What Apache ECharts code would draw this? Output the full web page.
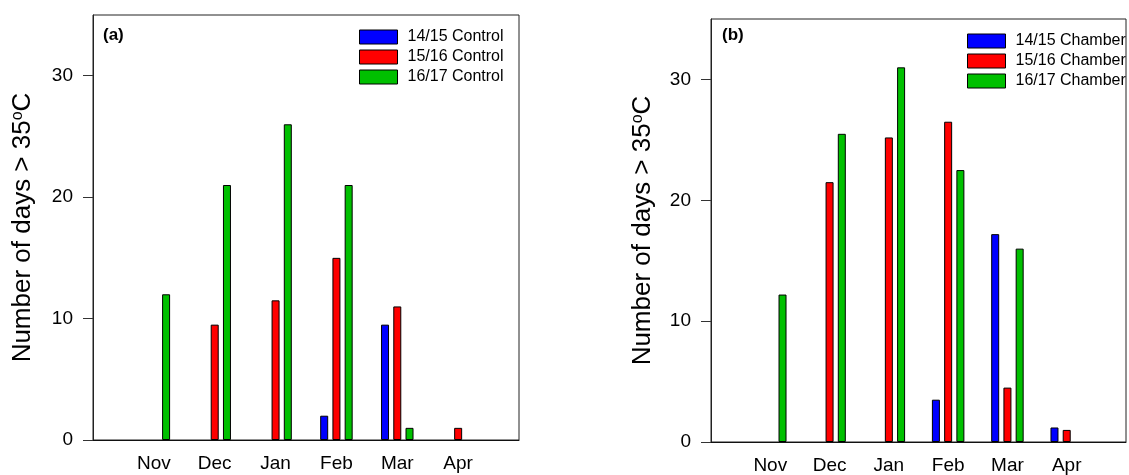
<!DOCTYPE html>
<html>
<head>
<meta charset="utf-8">
<title>Number of days above 35 °C</title>
<script src="https://cdn.jsdelivr.net/npm/echarts@6/dist/echarts.min.js"></script>
<style>
  html, body { margin: 0; padding: 0; background: #fff; }
  #chart { width: 1129px; height: 475px; }
</style>
</head>
<body>
<div id="chart"></div>
<script>
// Months of the warm season (x-axis tick labels)
const months = ['Nov', 'Dec', 'Jan', 'Feb', 'Mar', 'Apr'];
// Y-axis tick values
const yTicks = [0, 10, 20, 30];

// Panel (a): open-field control plots
const controlNames = ['14/15 Control', '15/16 Control', '16/17 Control'];
const control1415 = [0, 0, 0, 2, 9.5, 0];
const control1516 = [0, 9.5, 11.5, 15, 11, 1];
const control1617 = [12, 21, 26, 21, 1, 0];

// Panel (b): heated chambers
const chamberNames = ['14/15 Chamber', '15/16 Chamber', '16/17 Chamber'];
const chamber1415 = [0, 0, 0, 3.5, 17.2, 1.2];
const chamber1516 = [0, 21.5, 25.2, 26.5, 4.5, 1];
const chamber1617 = [12.2, 25.5, 31, 22.5, 16, 0];

const seasonColors = ['#0000ff', '#ff0000', '#00c000'];
const FONT = 'Arial, "Liberation Sans", Helvetica, sans-serif';

// an empty slot on each side so the months sit one step in from the frame
const cats = [''].concat(months, ['']);
// zero-day months get no outline so nothing shows on the baseline
const pad = arr => ['-'].concat(
  arr.map(v => (v === 0 ? { value: 0, itemStyle: { borderWidth: 0, opacity: 0 } } : v)),
  ['-']
);

function xAxisFor(gridIndex) {
  return {
    type: 'category', gridIndex, data: cats, boundaryGap: false,
    axisLine: { show: true, lineStyle: { color: '#111', width: 1 } },
    axisTick: { show: false },
    axisLabel: { interval: 0, fontSize: 19, fontFamily: FONT, color: '#000', margin: 14 },
    splitLine: { show: false }
  };
}

function yAxisFor(gridIndex, gap) {
  return {
    type: 'value', gridIndex, min: 0, max: 35, interval: 10,
    axisLine: { show: true, lineStyle: { color: '#222', width: 1 } },
    axisTick: { show: true, customValues: yTicks, length: 10, lineStyle: { color: '#333' } },
    axisLabel: { customValues: yTicks, fontSize: 19, fontFamily: FONT, color: '#000', margin: 20 },
    splitLine: { show: false },
    name: '{n|Number of days > 35}{s|o}{n|C}',
    nameLocation: 'middle', nameRotate: 90, nameGap: gap,
    nameTextStyle: {
      rich: {
        n: { fontSize: 26, fontFamily: FONT, color: '#000' },
        s: { fontSize: 16, fontFamily: FONT, color: '#000', verticalAlign: 'top' }
      }
    }
  };
}

function barSeries(name, values, color, idx) {
  return {
    type: 'bar', name, data: pad(values),
    xAxisIndex: idx, yAxisIndex: idx,
    barWidth: 8, barGap: '53%',
    itemStyle: { color, borderColor: '#000', borderWidth: 1 },
    emphasis: { disabled: true },
    animation: false
  };
}

function legendFor(names, left, top) {
  return {
    data: names, orient: 'vertical', left, top, padding: 0,
    icon: 'rect', itemWidth: 38, itemHeight: 14, itemGap: 4,
    selectedMode: false,
    itemStyle: { borderColor: '#000', borderWidth: 1 },
    textStyle: { fontSize: 16, fontFamily: FONT, color: '#000', lineHeight: 15, padding: [0, 0, 0, 5] }
  };
}

const chart = echarts.init(document.getElementById('chart'), null, { renderer: 'canvas' });
chart.setOption({
  backgroundColor: '#fff',
  animation: false,
  grid: [
    { left: 93, right: 610, top: 15, bottom: 35, show: true, borderColor: '#222', borderWidth: 1 },
    { left: 711, right: -6, top: 19, bottom: 31, show: true, borderColor: '#222', borderWidth: 1 }
  ],
  xAxis: [xAxisFor(0), xAxisFor(1)],
  yAxis: [yAxisFor(0, 57), yAxisFor(1, 55)],
  legend: [legendFor(controlNames, 359, 29), legendFor(chamberNames, 967, 33)],
  graphic: [
    { type: 'text', left: 103, top: 27, style: { text: '(a)', fontSize: 17, fontWeight: 'bold', fontFamily: FONT, fill: '#000' } },
    { type: 'text', left: 722, top: 27, style: { text: '(b)', fontSize: 17, fontWeight: 'bold', fontFamily: FONT, fill: '#000' } }
  ],
  series: [
    barSeries(controlNames[0], control1415, seasonColors[0], 0),
    barSeries(controlNames[1], control1516, seasonColors[1], 0),
    barSeries(controlNames[2], control1617, seasonColors[2], 0),
    barSeries(chamberNames[0], chamber1415, seasonColors[0], 1),
    barSeries(chamberNames[1], chamber1516, seasonColors[1], 1),
    barSeries(chamberNames[2], chamber1617, seasonColors[2], 1)
  ]
});
</script>
</body>
</html>
